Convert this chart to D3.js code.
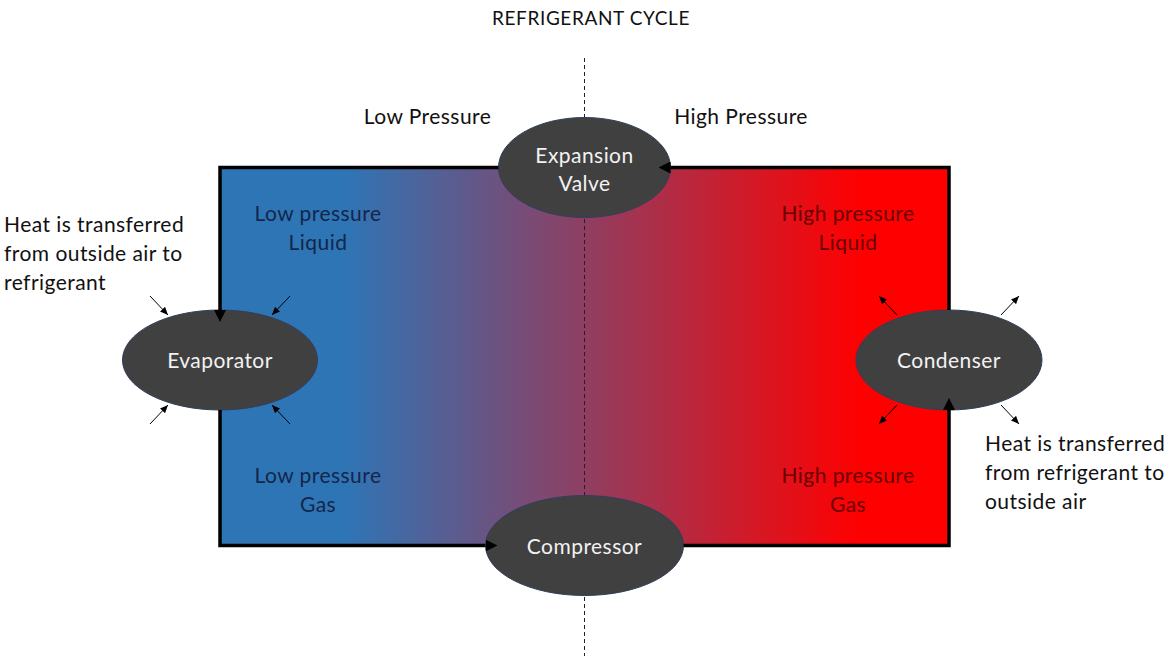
<!DOCTYPE html>
<html>
<head>
<meta charset="utf-8">
<script src="https://cdn.jsdelivr.net/npm/d3@7"></script>
<style>
  html, body { margin: 0; padding: 0; background: #ffffff; }
  svg { display: block; }
  text { font-family: Lato, "Open Sans", sans-serif; letter-spacing: 0.45px; }
</style>
</head>
<body>
<svg id="chart" width="1169" height="658"></svg>
<script>
// ---------------- data ----------------
const title = "REFRIGERANT CYCLE";
const sideNames = ["Low Pressure", "High Pressure"];
const sideKeys = ["low", "high"];

const components = ["Expansion Valve", "Evaporator", "Condenser", "Compressor"];
const componentColumn = ["valve", "low", "high", "valve"];
const componentRow = ["top", "middle", "middle", "bottom"];

const flowOrder = ["Compressor", "Condenser", "Expansion Valve", "Evaporator"];

const stateLabels = ["Low pressure\nLiquid", "Low pressure\nGas", "High pressure\nLiquid", "High pressure\nGas"];
const stateSide = ["low", "low", "high", "high"];
const stateRow = ["upper", "lower", "upper", "lower"];

const heatExchangers = ["Evaporator", "Condenser"];
const heatDirection = ["in", "out"];
const heatNotes = [
  "Heat is transferred\nfrom outside air to\nrefrigerant",
  "Heat is transferred\nfrom refrigerant to\noutside air"
];

// ---------------- layout ----------------
const svg = d3.select("#chart");
const x = d3.scaleOrdinal().domain(["low", "valve", "high"]).range([220, 584.5, 949]);
const y = d3.scaleOrdinal().domain(["top", "middle", "bottom"]).range([167.5, 360, 545.5]);
const stateX = d3.scaleOrdinal().domain(["low", "high"]).range([318, 848]);
const stateY = d3.scaleOrdinal().domain(["upper", "lower"]).range([221, 483]);
const sideX = d3.scaleOrdinal().domain(["low", "high"]).range([427.5, 741]);
const rx = {"Expansion Valve": 86, "Evaporator": 97.5, "Condenser": 93, "Compressor": 99};
const ry = 50;
const lineH = 29;
const fs = 21;

const comp = components.map((name, i) => ({name, cx: x(componentColumn[i]), cy: y(componentRow[i]), col: componentColumn[i], row: componentRow[i]}));
const byName = Object.fromEntries(comp.map(d => [d.name, d]));

// defs
const defs = svg.append("defs");
const grad = defs.append("linearGradient").attr("id", "cycleGrad").attr("x1", 0).attr("x2", 1).attr("y1", 0).attr("y2", 0);
[[0, "#2e75b6"], [0.17, "#2e75b6"], [0.88, "#ff0000"], [1, "#ff0000"]].forEach(s =>
  grad.append("stop").attr("offset", s[0]).attr("stop-color", s[1]));

defs.append("marker").attr("id", "bigHead")
  .attr("viewBox", "0 0 12 12").attr("refX", 0).attr("refY", 6)
  .attr("markerWidth", 12).attr("markerHeight", 12)
  .attr("markerUnits", "userSpaceOnUse").attr("orient", "auto")
  .append("path").attr("d", "M0,0L12,6L0,12Z").attr("fill", "#000");

defs.append("marker").attr("id", "smallHead")
  .attr("viewBox", "0 0 8 7").attr("refX", 8).attr("refY", 3.5)
  .attr("markerWidth", 8).attr("markerHeight", 7)
  .attr("markerUnits", "userSpaceOnUse").attr("orient", "auto")
  .append("path").attr("d", "M0,0L8,3.5L0,7Z").attr("fill", "#000");

// gradient body
svg.append("rect")
  .attr("x", x("low")).attr("y", y("top"))
  .attr("width", x("high") - x("low")).attr("height", y("bottom") - y("top"))
  .attr("fill", "url(#cycleGrad)");

// dashed divider
svg.append("line")
  .attr("x1", x("valve")).attr("x2", x("valve"))
  .attr("y1", 58).attr("y2", 656)
  .attr("stroke", "#222").attr("stroke-width", 1).attr("stroke-dasharray", "4,3");

// title and side labels
svg.append("text").attr("x", 591).attr("y", 24.5).attr("text-anchor", "middle")
  .attr("font-size", 19).style("letter-spacing", "0.6px").attr("fill", "#111").text(title);
svg.selectAll("text.side").data(sideNames).join("text").attr("class", "side")
  .attr("x", (d, i) => sideX(sideKeys[i])).attr("y", 124).attr("text-anchor", "middle")
  .attr("font-size", fs).attr("fill", "#111").text(d => d);

// state labels
stateLabels.forEach((lab, i) => {
  const t = svg.append("text").attr("text-anchor", "middle").attr("font-size", fs)
    .attr("fill", stateSide[i] === "low" ? "#14264a" : "#6a0000");
  lab.split("\n").forEach((line, j) => t.append("tspan")
    .attr("x", stateX(stateSide[i])).attr("y", stateY(stateRow[i]) + j * lineH).text(line));
});

// heat notes
heatNotes.forEach((note, i) => {
  const left = heatDirection[i] === "in";
  const t = svg.append("text").attr("font-size", fs).attr("fill", "#111");
  note.split("\n").forEach((line, j) => t.append("tspan")
    .attr("x", left ? 4 : 985).attr("y", (left ? 232 : 451) + j * lineH).text(line));
});

// ellipses
const nodes = svg.selectAll("g.node").data(comp).join("g").attr("class", "node");
nodes.append("ellipse")
  .attr("cx", d => d.cx).attr("cy", d => d.cy)
  .attr("rx", d => rx[d.name]).attr("ry", ry)
  .attr("fill", "#404040").attr("stroke", "#2f3f5f").attr("stroke-width", 1);
nodes.each(function(d) {
  const words = d.name === "Expansion Valve" ? ["Expansion", "Valve"] : [d.name];
  const t = d3.select(this).append("text").attr("text-anchor", "middle")
    .attr("font-size", fs).attr("fill", "#f2f2f2");
  words.forEach((w, j) => t.append("tspan").attr("x", d.cx)
    .attr("y", d.cy + 8 - (words.length - 1) * 14 + j * 28 + (words.length > 1 ? 1 : 0)).text(w));
});

// refrigerant flow (rectangle border with arrowheads)
function edge(d, toward) {
  const dx = Math.sign(toward[0] - d.cx), dy = Math.sign(toward[1] - d.cy);
  return [d.cx + dx * rx[d.name], d.cy + dy * ry];
}
const line = d3.line();
flowOrder.forEach((name, i) => {
  const f = byName[name], t = byName[flowOrder[(i + 1) % flowOrder.length]];
  const side = f.col !== "valve" ? f : t;
  const cap = f.col === "valve" ? f : t;
  const corner = [side.cx, cap.cy];
  svg.append("path")
    .attr("d", line([edge(f, corner), corner, edge(t, corner)]))
    .attr("fill", "none").attr("stroke", "#000").attr("stroke-width", 3.5)
    .attr("stroke-linejoin", "miter").attr("marker-end", "url(#bigHead)");
});

// heat transfer arrows
const outerOff = [70, 64], innerOff = [52, 45];
heatExchangers.forEach((name, i) => {
  const d = byName[name];
  [[-1, -1], [1, -1], [-1, 1], [1, 1]].forEach(([sx, sy]) => {
    const outer = [d.cx + sx * outerOff[0], d.cy + sy * outerOff[1]];
    const inner = [d.cx + sx * innerOff[0], d.cy + sy * innerOff[1]];
    const [a, b] = heatDirection[i] === "in" ? [outer, inner] : [inner, outer];
    svg.append("line").attr("x1", a[0]).attr("y1", a[1]).attr("x2", b[0]).attr("y2", b[1])
      .attr("stroke", "#000").attr("stroke-width", 1).attr("marker-end", "url(#smallHead)");
  });
});
</script>
</body>
</html>
